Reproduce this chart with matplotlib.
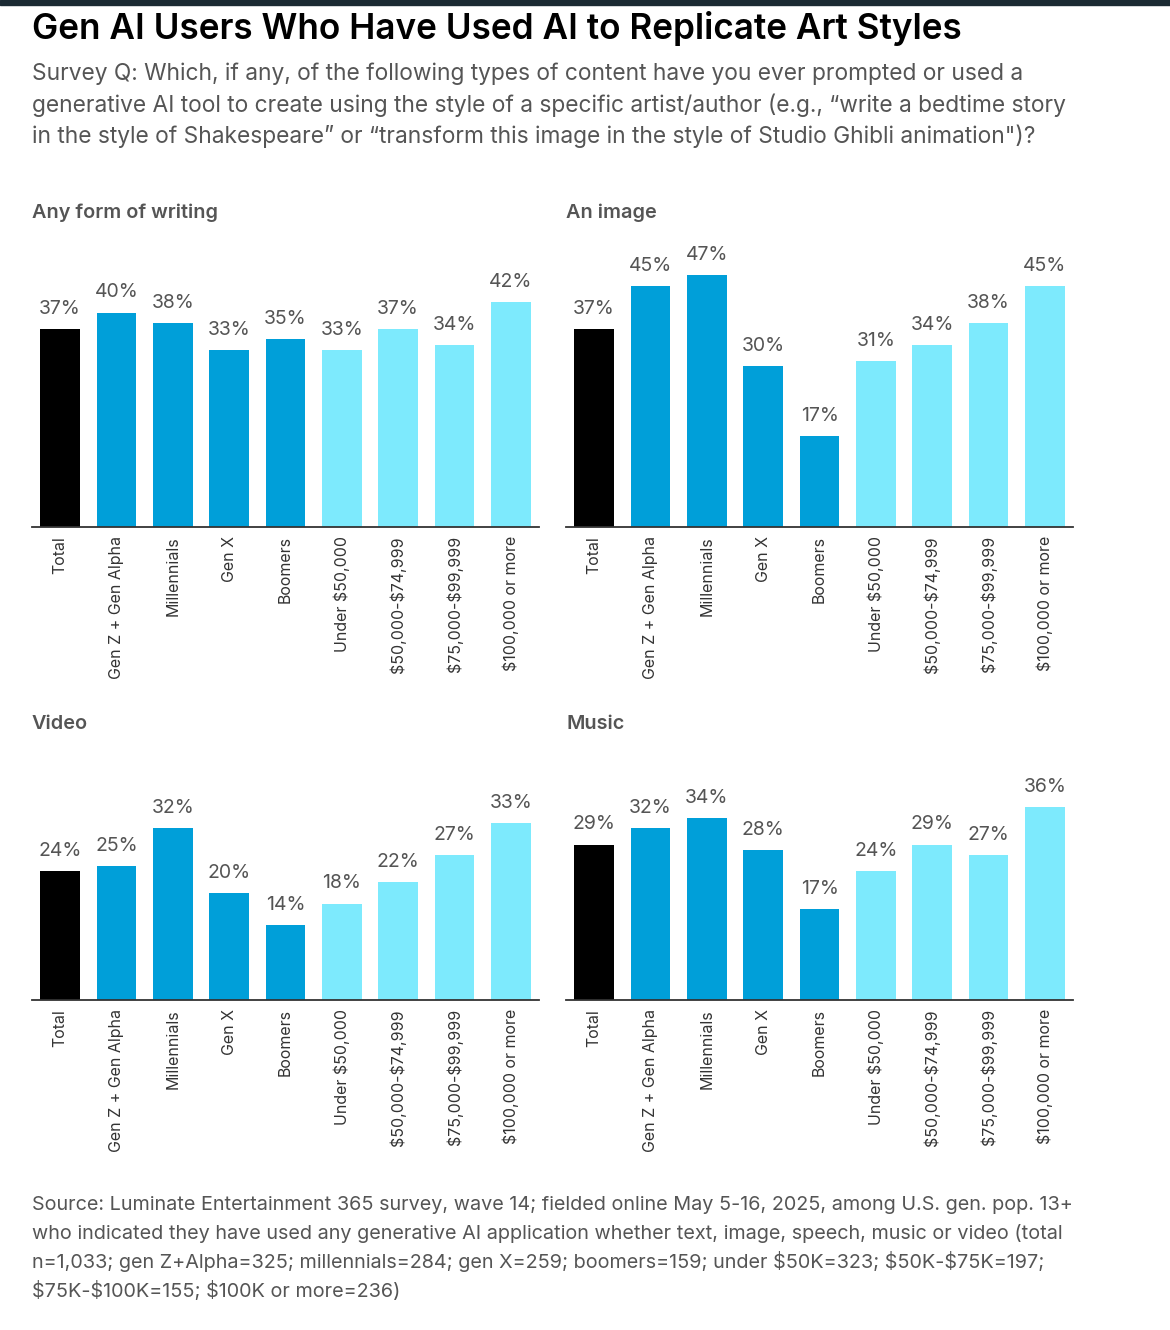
import matplotlib
matplotlib.use("Agg")
import matplotlib.pyplot as plt

plt.rcParams['font.family'] = ['Inter', 'DejaVu Sans']
plt.rcParams['text.parse_math'] = False

categories = ["Total", "Gen Z + Gen Alpha", "Millennials", "Gen X", "Boomers",
              "Under $50,000", "$50,000-$74,999", "$75,000-$99,999", "$100,000 or more"]
writing = [37, 40, 38, 33, 35, 33, 37, 34, 42]
image = [37, 45, 47, 30, 17, 31, 34, 38, 45]
video = [24, 25, 32, 20, 14, 18, 22, 27, 33]
music = [29, 32, 34, 28, 17, 24, 29, 27, 36]
panel_titles = ["Any form of writing", "An image", "Video", "Music"]

BLACK = "#000000"
DARK = "#009fd9"
LIGHT = "#7deafd"
bar_colors = [BLACK] + [DARK] * 4 + [LIGHT] * 4

W, H = 1170, 1330
fig = plt.figure(figsize=(W / 100, H / 100), dpi=100)

# top dark strip
fig.patches.append(plt.Rectangle((0, 1 - 5 / H), 1, 5 / H, transform=fig.transFigure,
                                 color="#1b2a33", zorder=0))

fig.text(32 / W, 1 - 29 / H, "Gen AI Users Who Have Used AI to Replicate Art Styles",
         fontsize=25.3, fontweight="semibold", color="#000000", va="center", ha="left")
subtitle = ["Survey Q: Which, if any, of the following types of content have you ever prompted or used a",
            "generative AI tool to create using the style of a specific artist/author (e.g., “write a bedtime story",
            "in the style of Shakespeare” or “transform this image in the style of Studio Ghibli animation\")?"]
for i, line in enumerate(subtitle):
    fig.text(32 / W, 1 - (74 + 31 * i) / H, line, fontsize=16.4, color="#555555",
             va="center", ha="left")

source = ["Source: Luminate Entertainment 365 survey, wave 14; fielded online May 5-16, 2025, among U.S. gen. pop. 13+",
          "who indicated they have used any generative AI application whether text, image, speech, music or video (total",
          "n=1,033; gen Z+Alpha=325; millennials=284; gen X=259; boomers=159; under $50K=323; $50K-$75K=197;",
          "$75K-$100K=155; $100K or more=236)"]
for i, line in enumerate(source):
    fig.text(32 / W, 1 - (1205 + 28.5 * i) / H, line, fontsize=14.25, color="#555555",
             va="center", ha="left")

px_per_pct = 5.36
ymax = 50
panels = [
    (writing, 32, 527, 213),
    (image, 566, 527, 213),
    (video, 32, 1000, 724),
    (music, 566, 1000, 724),
]
for (vals, left, base, title_y), title in zip(panels, panel_titles):
    ax = fig.add_axes([left / W, (H - base) / H, 507 / W, px_per_pct * ymax / H])
    x = range(len(categories))
    ax.bar(x, vals, width=0.71, color=bar_colors, zorder=2)
    ax.set_xlim(-0.5, len(categories) - 0.5)
    ax.set_ylim(0, ymax)
    for xi, v in zip(x, vals):
        ax.annotate(f"{v}%", (xi, v), xytext=(0, 8), textcoords="offset points",
                    ha="center", va="bottom", fontsize=14, color="#555555",
                    annotation_clip=False)
    for s in ["top", "right", "left"]:
        ax.spines[s].set_visible(False)
    ax.spines["bottom"].set_color("#333333")
    ax.spines["bottom"].set_linewidth(1.3)
    ax.set_yticks([])
    ax.set_xticks(list(x))
    ax.set_xticklabels(categories, rotation=90, fontsize=11.5, color="#333333")
    ax.tick_params(axis="x", length=0, pad=6.5)
    ax.patch.set_alpha(0)
    fig.text(left / W, 1 - title_y / H, title, fontsize=14.3, fontweight="semibold",
             color="#555555", va="center", ha="left")

fig.savefig("out.png", dpi=100, facecolor="white")
